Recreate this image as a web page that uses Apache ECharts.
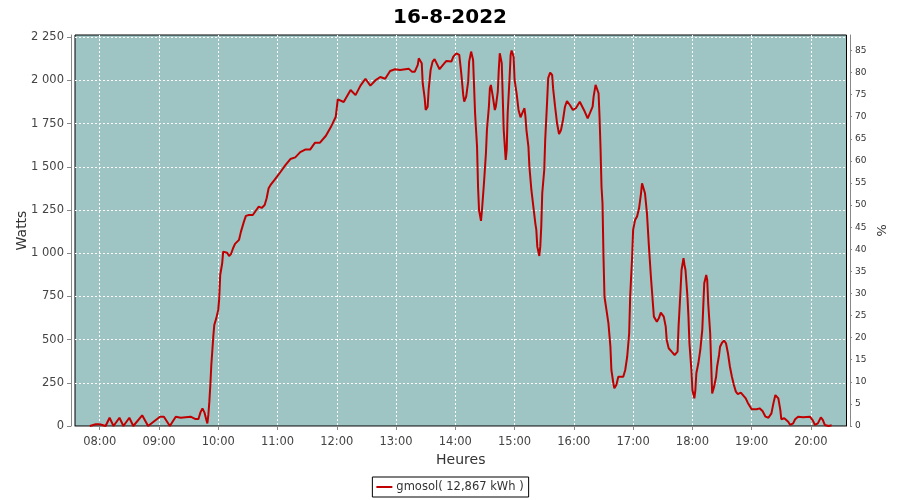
<!DOCTYPE html>
<html><head><meta charset="utf-8">
<script src="https://cdn.jsdelivr.net/npm/echarts@6/dist/echarts.min.js"></script>
<style>html,body{margin:0;padding:0;background:#fff}#c{width:900px;height:500px}</style>
</head><body><div id="c"></div>
<script>
const chartTitle = '16-8-2022';
const seriesName = 'gmosol( 12,867 kWh )';
const axisStart = '07:35';
const axisEnd = '20:36';
const xTitle = 'Heures';
const yTitle = 'Watts';
const y2Title = '%';
const wattsMax = 2263, wattsStep = 250;
const pctMax = 88.5, pctStep = 5;

const times = [
'07:50','07:56','08:00','08:02','08:06','08:10','08:14','08:20','08:24','08:30',
'08:34','08:43','08:49','09:01','09:05','09:11','09:17','09:22','09:32','09:37',
'09:40','09:42','09:44','09:46','09:48','09:49','09:50','09:51','09:52','09:53',
'09:55','09:56','09:58','10:00','10:01','10:02','10:04','10:05','10:07','10:09',
'10:11','10:13','10:15','10:17','10:21','10:23','10:26','10:28','10:31','10:35',
'10:38','10:41','10:44','10:47','10:49','10:51','10:53','10:57','11:03','11:08',
'11:13','11:18','11:23','11:28','11:33','11:38','11:43','11:49','11:54','11:59',
'12:01','12:07','12:14','12:19','12:24','12:29','12:34','12:39','12:44','12:49',
'12:54','12:59','13:04','13:13','13:16','13:19','13:22','13:23','13:25','13:26',
'13:27','13:29','13:30','13:32','13:33','13:35','13:37','13:39','13:41','13:44',
'13:46','13:49','13:51','13:56','13:58','14:01','14:03','14:04','14:06','14:08',
'14:09','14:11','14:13','14:14','14:16','14:17','14:18','14:19','14:20','14:22',
'14:23','14:24','14:26','14:27','14:29','14:31','14:32','14:34','14:35','14:36',
'14:38','14:40','14:41','14:43','14:44','14:45','14:46','14:47','14:48','14:49',
'14:51','14:52','14:53','14:55','14:56','14:57','14:59','15:00','15:02','15:04',
'15:06','15:08','15:10','15:11','15:12','15:14','15:15','15:17','15:19','15:21',
'15:22','15:23','15:25','15:26','15:27','15:28','15:30','15:31','15:33','15:34',
'15:36','15:38','15:39','15:41','15:43','15:45','15:47','15:49','15:51','15:53',
'15:56','15:59','16:02','16:06','16:08','16:11','16:14','16:16','16:19','16:20',
'16:22','16:23','16:25','16:26','16:27','16:28','16:29','16:30','16:31','16:33',
'16:35','16:37','16:38','16:40','16:41','16:43','16:45','16:47','16:50','16:52',
'16:54','16:56','16:57','16:59','17:00','17:02','17:04','17:06','17:08','17:09',
'17:11','17:12','17:14','17:16','17:18','17:20','17:21','17:24','17:26','17:28',
'17:30','17:31','17:33','17:34','17:36','17:39','17:42','17:43','17:45','17:46',
'17:48','17:49','17:51','17:52','17:53','17:55','17:56','17:57','17:59','18:00',
'18:02','18:03','18:04','18:06','18:08','18:10','18:11','18:12','18:14','18:15',
'18:16','18:18','18:19','18:20','18:22','18:24','18:25','18:27','18:28','18:30',
'18:32','18:34','18:36','18:38','18:40','18:42','18:44','18:46','18:49','18:51',
'18:54','18:56','18:58','19:00','19:05','19:08','19:11','19:14','19:17','19:20',
'19:22','19:24','19:25','19:27','19:29','19:30','19:33','19:35','19:37','19:39',
'19:42','19:44','19:47','19:52','19:59','20:02','20:04','20:07','20:10','20:12',
'20:14','20:18','20:21'
];
const watts = [
0,10,10,0,0,48,0,48,0,48,
0,62,0,54,54,0,54,48,54,40,
40,79,102,79,35,15,64,141,237,353,
517,585,623,672,739,874,942,1009,1019,1003,
984,996,1029,1054,1077,1125,1183,1216,1221,1221,
1246,1270,1262,1279,1318,1376,1395,1424,1470,1510,
1545,1555,1585,1600,1600,1640,1640,1680,1730,1790,
1890,1875,1945,1915,1970,2010,1970,2000,2020,2010,
2055,2065,2061,2067,2051,2051,2090,2128,2119,2100,
1984,1897,1829,1848,1945,2061,2109,2123,2100,2065,
2071,2100,2113,2109,2138,2157,2167,2148,2042,1916,
1877,1906,1993,2109,2167,2173,2119,1964,1810,1617,
1385,1250,1187,1250,1405,1579,1713,1848,1954,1974,
1906,1829,1848,1935,2061,2157,2161,2100,1906,1713,
1540,1598,1810,2022,2148,2173,2138,2003,1926,1829,
1787,1814,1839,1790,1713,1617,1501,1366,1270,1173,
1135,1038,984,1038,1154,1347,1480,1656,1887,2013,
2045,2032,1954,1848,1752,1690,1713,1771,1848,1881,
1858,1829,1839,1877,1868,1820,1781,1790,1848,1906,
1974,1984,1926,1790,1607,1385,1289,980,748,672,
594,459,324,247,218,237,285,295,285,324,
401,537,748,980,1135,1193,1212,1260,1347,1405,
1395,1347,1231,1038,864,710,633,604,623,656,
662,633,575,498,450,430,411,401,430,575,
787,903,971,932,903,748,633,479,324,208,
160,208,305,363,440,556,691,826,874,845,
710,537,363,189,228,285,343,411,459,482,
494,479,421,343,285,237,199,185,193,185,
160,135,116,97,97,102,87,54,48,73,
131,179,189,160,93,39,45,50,25,6,
15,39,54,50,54,31,6,15,50,35,
6,0,4
];

function toMin(t){const p=t.split(':');return (+p[0])*60+(+p[1]);}
function fmtMin(m){const h=Math.floor(m/60),mm=m%60;return (h<10?'0':'')+h+':'+(mm<10?'0':'')+mm;}
const startMin = toMin(axisStart), endMin = toMin(axisEnd);
const categories = [];
for (let m = startMin; m <= endMin; m++) categories.push(fmtMin(m));
const seriesData = times.map((t, i) => [toMin(t) - startMin, watts[i]]);
const onHour = (idx, val) => typeof val === 'string' ? val.slice(3) === '00' : categories[idx].slice(3) === '00';

const FONT = 'DejaVu Sans';
const chart = echarts.init(document.getElementById('c'), null, {renderer: 'canvas'});
chart.setOption({
  animation: false,
  backgroundColor: '#ffffff',
  textStyle: {fontFamily: FONT},
  title: {
    text: chartTitle, left: 'center', top: 3,
    textStyle: {fontFamily: FONT, fontSize: 20, fontWeight: 'bold', color: '#000'}
  },
  grid: {
    left: 75, right: 53.5, top: 35, bottom: 74,
    show: true, backgroundColor: '#9ec4c4', borderColor: '#000', borderWidth: 1
  },
  legend: {
    data: [seriesName], left: 'center', top: 477,
    icon: 'rect', itemWidth: 16, itemHeight: 2, itemGap: 4,
    borderColor: '#000', borderWidth: 1, padding: [4, 5, 4, 4],
    textStyle: {fontFamily: FONT, fontSize: 11.5, color: '#333', padding: [0,0,0,-1]},
    itemStyle: {color: '#c00000'}
  },
  xAxis: {
    type: 'category', data: categories, boundaryGap: false, offset: 4,
    axisLine: {lineStyle: {color: '#888'}},
    axisTick: {interval: onHour, length: 4, lineStyle: {color: '#888'}},
    axisLabel: {interval: onHour, fontFamily: FONT, fontSize: 11.5, color: '#444', margin: 6},
    splitLine: {show: true, interval: onHour, lineStyle: {color: '#fff', type: [2, 2], width: 1}},
    name: xTitle, nameLocation: 'middle', nameGap: 23, nameMoveOverlap: false,
    nameTextStyle: {fontFamily: FONT, fontSize: 14, color: '#333'}
  },
  yAxis: [{
    type: 'value', position: 'left', min: 0, max: wattsMax, interval: wattsStep, offset: 4,
    axisLine: {show: true, lineStyle: {color: '#888'}},
    axisTick: {show: true, length: 4, lineStyle: {color: '#888'}},
    axisLabel: {
      showMaxLabel: false, fontFamily: FONT, fontSize: 11.5, color: '#444', margin: 7,
      formatter: v => String(v).replace(/\B(?=(\d{3})+(?!\d))/g, ' ')
    },
    splitLine: {show: true, showMaxLine: false, showMinLine: false, lineStyle: {color: '#fff', type: [2, 2], width: 1}},
    name: yTitle, nameLocation: 'middle', nameGap: 42, nameMoveOverlap: false,
    nameTextStyle: {fontFamily: FONT, fontSize: 14, color: '#333'}
  }, {
    type: 'value', position: 'right', min: 0, max: pctMax, interval: pctStep, offset: 3.5,
    axisLine: {show: true, lineStyle: {color: '#888'}},
    axisTick: {show: true, length: 2, lineStyle: {color: '#888'}},
    axisLabel: {showMaxLabel: false, fontFamily: FONT, fontSize: 9, color: '#333', margin: 5},
    splitLine: {show: false},
    name: y2Title, nameLocation: 'middle', nameGap: 24, nameRotate: -90, nameMoveOverlap: false,
    nameTextStyle: {fontFamily: FONT, fontSize: 13, color: '#333'}
  }],
  series: [{
    name: seriesName, type: 'line', data: seriesData, showSymbol: false, symbol: 'none',
    lineStyle: {color: '#c00000', width: 2}, itemStyle: {color: '#c00000'}
  }]
});
</script></body></html>
